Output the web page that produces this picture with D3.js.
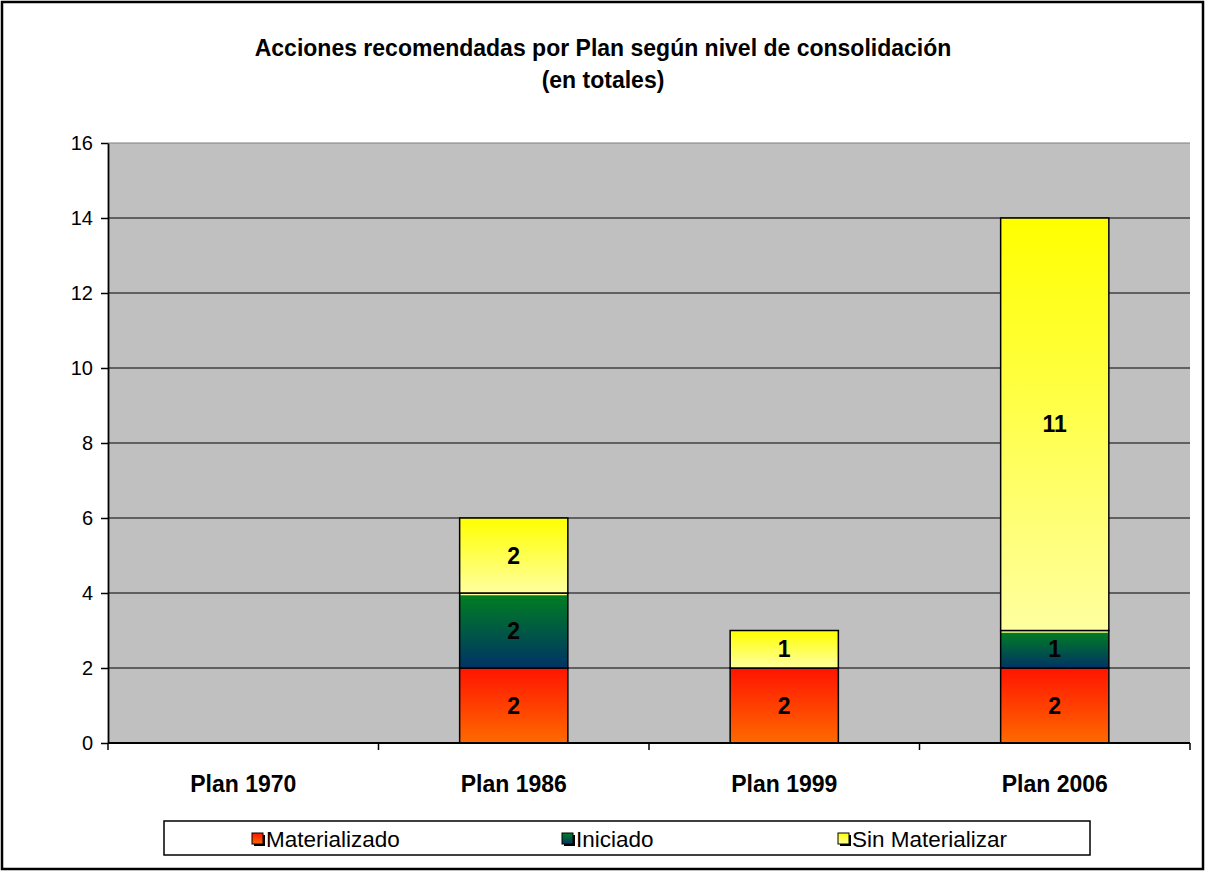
<!DOCTYPE html>
<html><head><meta charset="utf-8">
<script src="https://cdn.jsdelivr.net/npm/d3@7"></script>
<style>body{margin:0;background:#fff;}svg{display:block;font-family:"Liberation Sans",Arial,sans-serif;}</style>
</head><body>
<svg id="c" width="1206" height="872"></svg>
<script>
const categories = ["Plan 1970","Plan 1986","Plan 1999","Plan 2006"];
const seriesNames = ["Materializado","Iniciado","Sin Materializar"];
const materializado = [0,2,2,2];
const iniciado = [0,2,0,1];
const sinMaterializar = [0,2,1,11];
const yTicks = [0,2,4,6,8,10,12,14,16];
const titleLines = ["Acciones recomendadas por Plan según nivel de consolidación","(en totales)"];

const svg = d3.select("#c");
const defs = svg.append("defs");
const grads = [
  {id:"gMat", top:"#ff1400", bot:"#ff6a00"},
  {id:"gIni", top:"#008020", bot:"#003366"},
  {id:"gSin", top:"#ffff00", bot:"#ffffa0"}
];
grads.forEach(g=>{
  const lg = defs.append("linearGradient").attr("id",g.id).attr("x1",0).attr("y1",0).attr("x2",0).attr("y2",1);
  lg.append("stop").attr("offset","0%").attr("stop-color",g.top);
  lg.append("stop").attr("offset","100%").attr("stop-color",g.bot);
});

// outer border
svg.append("rect").attr("x",2).attr("y",2).attr("width",1201).attr("height",867)
  .attr("fill","#fff").attr("stroke","#000").attr("stroke-width",2.5);

const L=108, R=1190, T=143, B=743;
const x = d3.scaleBand().domain(categories).range([L,R]).padding(0);
const y = d3.scaleLinear().domain([0,16]).range([B,T]);

svg.append("rect").attr("x",L).attr("y",T).attr("width",R-L).attr("height",B-T).attr("fill","#c0c0c0");

// gridlines
svg.append("g").selectAll("line").data(yTicks.filter(d=>d>0)).join("line")
  .attr("x1",L).attr("x2",R).attr("y1",d=>y(d)).attr("y2",d=>y(d))
  .attr("stroke",d=>d===16?"#808080":"#000").attr("stroke-width",1.2);

// title
svg.append("g").selectAll("text").data(titleLines).join("text")
  .attr("x",603).attr("y",(d,i)=>56+i*32).attr("text-anchor","middle")
  .attr("font-weight","bold").attr("font-size",23).text(d=>d);

// stacked data
const data = categories.map((c,i)=>({cat:c, Materializado:materializado[i], Iniciado:iniciado[i], "Sin Materializar":sinMaterializar[i]}));
const stack = d3.stack().keys(seriesNames)(data);
const fills = ["url(#gMat)","url(#gIni)","url(#gSin)"];
const bw = x.bandwidth()*0.4;

stack.forEach((s,si)=>{
  const g = svg.append("g");
  s.forEach((d,i)=>{
    const v = d[1]-d[0];
    if(v<=0) return;
    const cx = x(categories[i])+x.bandwidth()/2;
    g.append("rect").attr("x",cx-bw/2).attr("y",y(d[1])).attr("width",bw).attr("height",y(d[0])-y(d[1]))
      .attr("fill",fills[si]).attr("stroke","#000").attr("stroke-width",1.5);
    if(si===1 && sinMaterializar[i]>0){
      g.append("line").attr("x1",cx-bw/2+1).attr("x2",cx+bw/2-1).attr("y1",y(d[1])+1.5).attr("y2",y(d[1])+1.5)
        .attr("stroke","#ffff99").attr("stroke-width",1.5);
    }
    g.append("text").attr("x",cx).attr("y",(y(d[0])+y(d[1]))/2+8).attr("text-anchor","middle")
      .attr("font-weight","bold").attr("font-size",23).text(v);
  });
});

// axes
const ya = d3.axisLeft(y).tickValues(yTicks).tickSize(7).tickPadding(8).tickSizeOuter(0);
const yg = svg.append("g").attr("transform",`translate(${L},0)`).call(ya);
yg.select(".domain").attr("stroke","#000").attr("stroke-width",1.8);
yg.selectAll(".tick line").attr("stroke","#000").attr("stroke-width",1.5);
yg.selectAll("text").attr("font-size",20).attr("font-family","Liberation Sans, Arial, sans-serif").attr("fill","#000");

const xg = svg.append("g").attr("transform",`translate(0,${B})`);
xg.append("line").attr("x1",L).attr("x2",R).attr("y1",0).attr("y2",0).attr("stroke","#000").attr("stroke-width",2);
const bounds = categories.map(c=>x(c)).concat([R]);
xg.selectAll("line.t").data(bounds).join("line").attr("class","t")
  .attr("x1",d=>d).attr("x2",d=>d).attr("y1",0).attr("y2",7).attr("stroke","#000").attr("stroke-width",1.5);
xg.selectAll("text").data(categories).join("text")
  .attr("x",d=>x(d)+x.bandwidth()/2).attr("y",49).attr("text-anchor","middle")
  .attr("font-weight","bold").attr("font-size",23).text(d=>d);

// legend
const lgd = svg.append("g");
lgd.append("rect").attr("x",164).attr("y",821).attr("width",926).attr("height",34)
  .attr("fill","#fff").attr("stroke","#000").attr("stroke-width",1.5);
const legX = [252,562,838];
seriesNames.forEach((n,i)=>{
  lgd.append("rect").attr("x",legX[i]+2).attr("y",835).attr("width",11).attr("height",11).attr("fill","#000");
  lgd.append("rect").attr("x",legX[i]).attr("y",833).attr("width",11).attr("height",11)
    .attr("fill",fills[i]).attr("stroke","#000").attr("stroke-width",1);
  lgd.append("text").attr("x",legX[i]+14).attr("y",847).attr("font-size",22.5).text(n);
});
</script>
</body></html>
